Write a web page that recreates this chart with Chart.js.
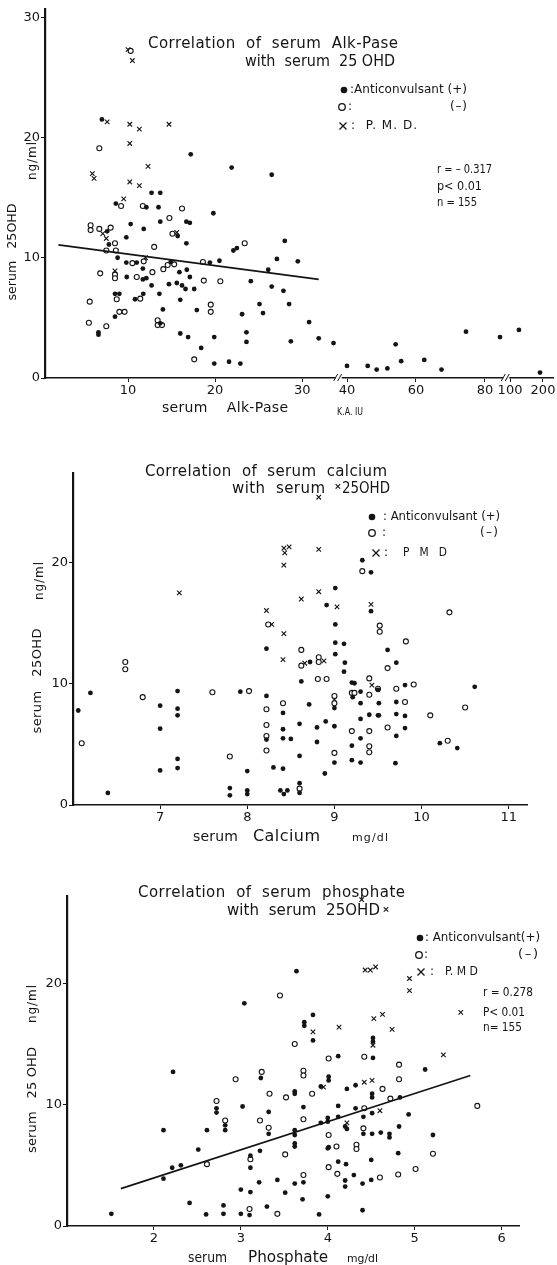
<!DOCTYPE html>
<html><head><meta charset="utf-8">
<script src="https://cdn.jsdelivr.net/npm/chart.js@4.4.1/dist/chart.umd.min.js"></script>
<style>
html,body{margin:0;padding:0;background:#fff;width:557px;height:1265px;overflow:hidden;}
canvas{position:absolute;left:0;}
</style></head><body>
<canvas id="c1" width="557" height="420" style="top:0px"></canvas>
<canvas id="c2" width="557" height="440" style="top:420px"></canvas>
<canvas id="c3" width="557" height="405" style="top:860px"></canvas>
<script>
// ---------- DATA: chart 1, serum Alk-Pase (K.A. IU) vs serum 25OHD (ng/ml) ----------
const alkAnticonvulsant = [[7.0,21.5],[17.2,18.6],[21.9,17.5],[26.5,16.9],[12.7,15.4],[13.7,15.4],[8.6,14.5],[12.1,14.2],[13.5,14.2],[19.8,13.7],[10.3,12.8],[11.8,12.4],[13.7,13.0],[16.7,13.0],[17.1,12.9],[7.6,12.2],[7.8,11.1],[9.8,11.7],[15.7,11.8],[16.7,11.2],[22.1,10.6],[22.5,10.8],[27.1,9.9],[8.8,10.0],[9.8,9.6],[11.0,9.6],[9.85,8.4],[11.7,9.1],[11.7,8.2],[12.1,8.3],[14.9,9.65],[19.4,9.6],[20.5,9.75],[15.9,8.8],[16.75,9.0],[17.1,8.4],[24.1,8.05],[26.1,9.0],[26.5,7.6],[12.7,7.7],[14.7,7.8],[15.6,7.9],[16.2,7.7],[16.6,7.4],[17.6,7.4],[8.5,7.0],[9.0,7.0],[10.8,6.55],[11.75,7.0],[13.6,7.0],[16.0,6.5],[6.6,3.8],[6.6,3.6],[8.5,5.1],[14.0,5.7],[13.7,4.55],[16.0,3.7],[16.9,3.4],[17.9,5.65],[18.4,2.5],[19.9,3.4],[19.9,1.2],[21.6,1.35],[22.9,1.2],[23.1,5.3],[23.6,3.8],[23.6,3.0],[25.1,6.15],[25.5,5.4],[28.0,11.4],[29.5,9.7],[27.85,7.25],[28.5,6.15],[30.8,4.65],[28.7,3.05],[31.9,3.3],[33.6,2.9],[40,1.0],[46,1.0],[48.6,0.7],[51.7,0.8],[54.1,2.8],[55.7,1.4],[62.4,1.5],[67.4,0.7],[74.5,3.85],[92,3.4],[127,4.0],[191,0.45]];
const alkNoAnticonvulsant = [[10.3,27.2],[6.7,19.1],[9.2,14.3],[11.7,14.3],[16.2,14.1],[14.75,13.3],[5.7,12.7],[5.7,12.3],[6.7,12.4],[8.0,12.5],[8.5,11.2],[15.1,12.0],[13.0,10.9],[7.5,10.6],[8.6,10.6],[23.4,11.2],[11.8,9.7],[10.5,9.55],[6.8,8.7],[8.5,8.6],[8.5,8.3],[11.0,8.4],[12.8,8.8],[14.05,9.05],[14.55,9.4],[15.3,9.45],[18.6,9.65],[18.7,8.1],[20.6,8.05],[8.7,6.55],[11.4,6.6],[5.6,6.35],[5.5,4.6],[7.5,4.3],[9.0,5.5],[9.6,5.5],[13.4,4.8],[13.4,4.4],[13.9,4.4],[17.6,1.55],[19.5,6.1],[19.5,5.5]];
const alkPMD = [[10.0,27.3],[10.5,26.4],[7.6,21.3],[10.2,21.1],[11.3,20.7],[14.7,21.1],[10.2,19.5],[12.3,17.6],[5.9,17.0],[6.1,16.6],[10.2,16.3],[11.3,16.0],[9.5,14.9],[7.1,12.0],[7.5,11.6],[15.6,12.1],[12.0,10.0],[8.5,8.9]];
const alkRegression = [[2.0,11.07],[31.9,8.2]];
const alkXTicks = [10,20,30,40,60,80,100,200];
const alkYTicks = [0,10,20,30];

// ---------- DATA: chart 2, serum calcium (mg/dl) vs serum 25OHD ----------
const caAnticonvulsant = [[6.06,7.8],[6.2,9.25],[6.4,1.0],[7.0,8.2],[7.0,6.3],[7.0,2.85],[7.2,9.4],[7.2,7.95],[7.2,7.4],[7.2,3.8],[7.2,3.05],[7.92,9.35],[7.8,1.4],[7.8,0.8],[8.0,2.8],[8.0,1.2],[8.0,0.9],[8.22,9.0],[8.22,5.4],[8.22,12.9],[8.3,3.1],[8.38,1.2],[8.42,0.9],[8.46,1.2],[9.32,20.2],[9.42,19.2],[9.01,17.9],[8.91,16.5],[9.42,16.0],[9.01,14.9],[9.01,13.4],[9.11,13.3],[9.01,12.45],[8.72,11.8],[9.12,11.75],[9.11,11.0],[8.62,10.2],[8.41,7.6],[8.71,8.3],[9.0,8.0],[9.2,10.1],[9.23,10.05],[9.21,8.9],[9.3,9.35],[9.5,9.5],[9.3,8.4],[9.4,7.45],[9.3,7.1],[9.5,7.4],[8.6,6.7],[8.8,6.4],[8.9,6.9],[9.0,6.5],[8.41,6.25],[8.41,5.5],[8.5,5.45],[8.8,5.2],[9.3,5.5],[9.2,4.9],[8.6,4.05],[9.0,3.5],[9.2,3.7],[9.3,3.5],[8.41,3.0],[8.89,2.6],[8.6,1.8],[8.6,1.0],[9.61,12.8],[9.71,11.75],[9.81,9.9],[10.61,9.75],[9.51,8.4],[9.71,8.5],[9.51,7.4],[9.71,7.5],[9.81,7.35],[9.81,6.35],[9.71,5.7],[10.21,5.1],[10.41,4.7],[9.7,3.45]];
const caNoAnticonvulsant = [[6.1,5.1],[6.6,11.8],[6.6,11.2],[6.8,8.9],[7.6,9.3],[8.02,9.4],[7.8,4.0],[8.22,7.9],[8.22,6.6],[8.22,5.7],[8.22,4.5],[8.24,14.9],[9.32,19.3],[9.52,14.8],[9.52,14.3],[8.62,12.8],[8.62,11.5],[8.82,12.2],[8.82,11.8],[8.81,10.4],[8.91,10.4],[8.41,8.4],[9.0,9.0],[9.0,8.4],[9.2,9.25],[9.23,9.25],[9.4,10.45],[9.4,9.1],[9.2,6.1],[9.4,6.1],[9.4,4.85],[9.4,4.35],[9.0,4.3],[8.6,1.35],[10.32,15.9],[9.82,13.5],[9.61,11.3],[9.5,9.6],[9.71,9.6],[9.91,9.95],[9.81,8.5],[10.5,8.05],[10.1,7.4],[9.61,6.4],[10.3,5.3]];
const caPMD = [[8.42,21.2],[8.48,21.3],[8.43,20.8],[8.82,21.1],[8.42,19.8],[8.62,17.0],[8.82,17.6],[9.03,16.35],[9.42,16.55],[8.22,16.05],[8.28,14.9],[8.42,14.15],[8.41,12.0],[8.66,11.7],[8.88,11.9],[9.0,8.7],[9.43,9.9],[7.22,17.5],[8.82,25.4],[9.04,26.3]];
const caXTicks = [7,8,9,10,11];
const caYTicks = [0,10,20];

// ---------- DATA: chart 3, serum phosphate (mg/dl) vs serum 25OHD ----------
const pAnticonvulsant = [[1.51,1.0],[2.22,12.7],[2.11,7.9],[2.11,3.9],[2.21,4.8],[2.31,5.0],[2.41,1.9],[2.51,6.3],[2.61,7.9],[2.6,0.95],[2.72,9.7],[2.72,9.35],[2.8,1.0],[2.8,1.7],[2.82,8.3],[2.82,7.9],[3.02,9.85],[3.0,1.0],[3.0,3.0],[3.11,5.8],[3.11,4.8],[3.11,2.8],[3.1,0.9],[3.21,3.6],[3.22,6.2],[3.23,12.2],[3.32,9.4],[3.32,7.6],[3.3,1.6],[3.42,3.8],[3.04,18.35],[3.83,17.4],[3.73,16.8],[3.73,16.5],[3.83,15.3],[4.01,12.3],[4.01,12.0],[3.92,11.5],[3.62,11.1],[3.62,10.9],[3.72,9.8],[3.62,7.9],[3.62,7.5],[3.92,8.5],[4.0,8.9],[4.0,8.6],[4.0,6.4],[3.62,6.8],[3.62,6.55],[3.72,3.6],[3.62,3.5],[3.51,2.75],[4.0,2.45],[3.64,21.0],[4.52,15.5],[4.52,15.2],[4.12,14.0],[4.52,13.85],[5.12,12.9],[4.22,11.3],[4.32,11.6],[4.51,10.9],[4.51,10.6],[4.83,10.6],[4.12,9.9],[4.12,9.0],[4.32,9.7],[4.41,9.0],[4.51,9.3],[4.93,9.2],[4.2,8.2],[4.22,8.0],[4.41,7.6],[4.51,7.6],[4.61,7.7],[4.71,7.6],[4.71,7.3],[4.82,8.2],[5.21,7.5],[4.01,6.5],[4.81,6.0],[4.12,5.3],[4.21,5.1],[4.5,5.45],[4.2,3.75],[4.2,3.25],[4.3,4.2],[4.4,3.5],[4.5,3.8],[3.71,2.2],[3.9,0.95],[4.4,1.3]];
const pNoAnticonvulsant = [[2.61,5.1],[2.72,10.3],[2.82,8.7],[2.94,12.1],[3.11,5.5],[3.1,1.4],[3.22,8.7],[3.24,12.7],[3.33,10.9],[3.32,8.1],[3.42,1.0],[3.62,15.0],[4.01,13.8],[3.72,12.8],[3.72,12.4],[3.52,10.6],[3.82,10.9],[3.72,8.8],[4.01,7.5],[4.01,4.85],[3.51,5.9],[3.72,4.2],[3.45,19.0],[4.42,13.95],[4.82,13.3],[4.82,12.1],[4.63,11.3],[4.72,10.5],[4.42,9.7],[4.41,8.05],[4.1,6.55],[4.33,6.7],[4.33,6.35],[5.21,5.95],[5.01,4.7],[4.11,4.3],[4.6,4.0],[4.81,4.25],[5.72,9.9]];
const pPMD = [[3.83,16.0],[3.95,11.45],[4.43,21.1],[4.49,21.1],[4.55,21.35],[4.94,20.4],[4.94,19.4],[4.13,16.4],[4.53,17.1],[4.63,17.45],[4.74,16.2],[5.53,17.6],[4.52,14.9],[5.33,14.1],[4.42,11.85],[4.51,12.0],[4.6,9.5],[4.22,8.5],[4.67,26.1],[4.39,26.9]];
const pRegression = [[1.62,3.08],[5.64,12.4]];
const pXTicks = [2,3,4,5,6];
const pYTicks = [0,10,20];

// ---------- rendering ----------
const FONT = '"DejaVu Sans", "Liberation Sans", sans-serif';
const INK = '#141414';

class BrokenLinearScale extends Chart.LinearScale {
  getPixelForValue(value) {
    const a = this.options.breakAnchors;
    if (!a) return super.getPixelForValue(value);
    let i = 0;
    while (i < a.length - 2 && value > a[i + 1][0]) i++;
    const v0 = a[i][0], f0 = a[i][1], v1 = a[i + 1][0], f1 = a[i + 1][1];
    const f = f0 + (value - v0) * (f1 - f0) / (v1 - v0);
    return this.left + f * this.width;
  }
}
BrokenLinearScale.id = 'brokenLinear';
BrokenLinearScale.defaults = {};
Chart.register(BrokenLinearScale);

function series(points, kind, label) {
  const base = { label, data: points.map(p => ({ x: p[0], y: p[1] })), showLine: false };
  if (kind === 'dot') return { ...base, pointStyle: 'circle', pointRadius: 2.4, backgroundColor: INK, borderColor: INK, borderWidth: 0 };
  if (kind === 'ring') return { ...base, pointStyle: 'circle', pointRadius: 2.5, backgroundColor: '#fff', borderColor: INK, borderWidth: 1.1 };
  if (kind === 'line') return { ...base, showLine: true, pointRadius: 0, borderColor: INK, borderWidth: 1.6, fill: false };
  return { ...base, pointStyle: 'crossRot', pointRadius: 3.2, borderColor: INK, backgroundColor: INK, borderWidth: 1.1 };
}

function drawText(ctx, t, off) {
  ctx.save();
  ctx.font = (t.weight || 'normal') + ' ' + t.size + 'px ' + FONT;
  ctx.fillStyle = INK;
  ctx.textBaseline = 'middle';
  ctx.textAlign = 'left';
  const w0 = ctx.measureText(t.text).width;
  const W = t.w || w0;
  const n = t.text.length;
  ctx.translate(t.x, t.y - off);
  if (t.rot) ctx.rotate(-Math.PI / 2);
  const sx = t.rot ? -W / 2 : 0;
  if ('letterSpacing' in ctx && n > 1 && W >= w0) {
    ctx.letterSpacing = ((W - w0) / (n - 1)) + 'px';
    ctx.fillText(t.text, sx, 0);
  } else {
    ctx.translate(sx, 0);
    ctx.scale(W / w0, 1);
    ctx.fillText(t.text, 0, 0);
  }
  ctx.restore();
}

function drawMarker(ctx, m, off) {
  const y = m.y - off;
  ctx.save();
  ctx.strokeStyle = INK; ctx.fillStyle = INK; ctx.lineWidth = 1.3;
  if (m.kind === 'dot') { ctx.beginPath(); ctx.arc(m.x, y, m.r, 0, Math.PI * 2); ctx.fill(); }
  else if (m.kind === 'ring') { ctx.beginPath(); ctx.arc(m.x, y, m.r, 0, Math.PI * 2); ctx.stroke(); }
  else {
    ctx.beginPath();
    ctx.moveTo(m.x - m.r, y - m.r); ctx.lineTo(m.x + m.r, y + m.r);
    ctx.moveTo(m.x + m.r, y - m.r); ctx.lineTo(m.x - m.r, y + m.r);
    ctx.stroke();
  }
  ctx.restore();
}

function decorPlugin(cfg) {
  return {
    id: 'decor',
    afterDraw(chart) {
      const ctx = chart.ctx;
      (cfg.breaks || []).forEach(v => {
        const px = chart.scales.x.getPixelForValue(v);
        const py = chart.chartArea.bottom;
        ctx.save();
        ctx.fillStyle = '#fff';
        ctx.fillRect(px - 3, py - 2, 6, 4);
        ctx.strokeStyle = INK; ctx.lineWidth = 1;
        ctx.beginPath();
        ctx.moveTo(px - 5, py + 3); ctx.lineTo(px - 1, py - 4);
        ctx.moveTo(px - 1, py + 3); ctx.lineTo(px + 3, py - 4);
        ctx.stroke();
        ctx.restore();
      });
      cfg.texts.forEach(t => drawText(ctx, t, cfg.offset));
      cfg.markers.forEach(m => drawMarker(ctx, m, cfg.offset));
    }
  };
}

function makeChart(id, cfg) {
  const canvas = document.getElementById(id);
  const H = canvas.height;
  const axisBase = {
    grid: { display: true, drawOnChartArea: false, drawTicks: true, tickLength: 4, color: INK, lineWidth: 1 },
    ticks: { color: INK, font: { family: FONT, size: 13 }, padding: 1, autoSkip: false, maxRotation: 0, callback: v => String(v) }
  };
  return new Chart(canvas, {
    type: 'scatter',
    data: { datasets: cfg.datasets },
    options: {
      responsive: false, animation: false, devicePixelRatio: 1,
      layout: { autoPadding: false, padding: { top: cfg.area.top - cfg.offset, right: 557 - cfg.area.right, left: 0, bottom: 0 } },
      plugins: { legend: { display: false }, tooltip: { enabled: false }, title: { display: false } },
      scales: {
        x: {
          ...axisBase, type: cfg.xType || 'linear', min: cfg.xMin, max: cfg.xMax,
          breakAnchors: cfg.anchors,
          border: { display: true, color: INK, width: 1.6 },
          afterBuildTicks: s => { s.ticks = cfg.xTicks.map(v => ({ value: v })); },
          afterFit: s => { s.height = H - (cfg.area.bottom - cfg.offset); }
        },
        y: {
          ...axisBase, min: 0, max: cfg.yMax,
          border: { display: true, color: INK, width: 2.2 },
          afterBuildTicks: s => { s.ticks = cfg.yTicks.map(v => ({ value: v })); },
          afterFit: s => { s.width = cfg.area.left; }
        }
      }
    },
    plugins: [decorPlugin(cfg)]
  });
}

// Chart 1
makeChart('c1', {
  offset: 0,
  area: { left: 45, right: 553, top: 5, bottom: 378 },
  xType: 'brokenLinear', xMin: 0, xMax: 200,
  anchors: [[0, -0.0079], [34, 0.5748], [40, 0.5945], [80, 0.8661], [100, 0.9154], [200, 0.9803], [300, 1.045]],
  breaks: [35, 97],
  xTicks: alkXTicks, yTicks: alkYTicks, yMax: 30.7,
  datasets: [
    series(alkRegression, 'line', 'regression'),
    series(alkAnticonvulsant, 'dot', 'Anticonvulsant (+)'),
    series(alkNoAnticonvulsant, 'ring', 'Anticonvulsant (-)'),
    series(alkPMD, 'cross', 'P.M.D.')
  ],
  texts: [
    { text: 'Correlation  of  serum  Alk-Pase', x: 148, y: 44, size: 15, w: 250 },
    { text: 'with  serum  25 OHD', x: 245, y: 62, size: 15, w: 150 },
    { text: ':Anticonvulsant (+)', x: 350, y: 90, size: 12, w: 117 },
    { text: ':', x: 348, y: 107, size: 12 },
    { text: '(–)', x: 450, y: 107, size: 12, w: 17 },
    { text: ':  P. M. D.', x: 351, y: 126, size: 12, w: 66 },
    { text: 'r = – 0.317', x: 437, y: 170, size: 12, w: 55 },
    { text: 'p< 0.01', x: 437, y: 187, size: 12, w: 45 },
    { text: 'n = 155', x: 437, y: 203, size: 12, w: 40 },
    { text: 'serum   25OHD', x: 13, y: 252, size: 13, w: 97, rot: true },
    { text: 'ng/ml', x: 33, y: 161, size: 12, w: 38, rot: true },
    { text: 'serum    Alk-Pase', x: 162, y: 408, size: 14, w: 126 },
    { text: 'K.A. IU', x: 337, y: 412, size: 10, w: 26 }
  ],
  markers: [
    { kind: 'dot', x: 344, y: 90, r: 3.3 },
    { kind: 'ring', x: 342, y: 107, r: 3.3 },
    { kind: 'cross', x: 343, y: 126, r: 3.5 }
  ]
});

// Chart 2
makeChart('c2', {
  offset: 420,
  area: { left: 73, right: 527, top: 473, bottom: 805 },
  xMin: 6.0, xMax: 11.21,
  xTicks: caXTicks, yTicks: caYTicks, yMax: 27.4,
  datasets: [
    series(caAnticonvulsant, 'dot', 'Anticonvulsant (+)'),
    series(caNoAnticonvulsant, 'ring', 'Anticonvulsant (-)'),
    series(caPMD, 'cross', 'P M D')
  ],
  texts: [
    { text: 'Correlation  of  serum  calcium', x: 145, y: 472, size: 15, w: 242 },
    { text: 'with  serum', x: 232, y: 489, size: 15, w: 93 },
    { text: '25OHD', x: 342, y: 489, size: 15, w: 48 },
    { text: ': Anticonvulsant (+)', x: 383, y: 517, size: 12, w: 117 },
    { text: ':', x: 382, y: 533, size: 12 },
    { text: '(–)', x: 480, y: 533, size: 12, w: 18 },
    { text: ':', x: 384, y: 553, size: 12 },
    { text: 'P   M   D', x: 403, y: 553, size: 12, w: 44 },
    { text: 'serum   25OHD', x: 38, y: 681, size: 13, w: 105, rot: true },
    { text: 'ng/ml', x: 40, y: 581, size: 12, w: 38, rot: true },
    { text: 'serum', x: 193, y: 837, size: 14, w: 45 },
    { text: 'Calcium', x: 253, y: 837, size: 16, w: 67 },
    { text: 'mg/dl', x: 352, y: 838, size: 11, w: 36 }
  ],
  markers: [
    { kind: 'dot', x: 372, y: 517, r: 3.3 },
    { kind: 'ring', x: 372, y: 533, r: 3.3 },
    { kind: 'cross', x: 376, y: 553, r: 3.5 }
  ]
});

// Chart 3
makeChart('c3', {
  offset: 860,
  area: { left: 67, right: 519, top: 896, bottom: 1226 },
  xMin: 1.0, xMax: 6.2,
  xTicks: pXTicks, yTicks: pYTicks, yMax: 27.2,
  datasets: [
    series(pRegression, 'line', 'regression'),
    series(pAnticonvulsant, 'dot', 'Anticonvulsant (+)'),
    series(pNoAnticonvulsant, 'ring', 'Anticonvulsant (-)'),
    series(pPMD, 'cross', 'P. M D')
  ],
  texts: [
    { text: 'Correlation  of  serum  phosphate', x: 138, y: 893, size: 15, w: 267 },
    { text: 'with  serum  25OHD', x: 227, y: 911, size: 15, w: 153 },
    { text: ': Anticonvulsant(+)', x: 425, y: 938, size: 13, w: 115 },
    { text: ':', x: 424, y: 955, size: 12 },
    { text: '(–)', x: 518, y: 955, size: 13, w: 20 },
    { text: ':', x: 430, y: 972, size: 12 },
    { text: 'P. M D', x: 445, y: 972, size: 13, w: 33 },
    { text: 'r = 0.278', x: 483, y: 993, size: 12, w: 50 },
    { text: 'P< 0.01', x: 483, y: 1013, size: 12, w: 42 },
    { text: 'n= 155', x: 483, y: 1028, size: 12, w: 39 },
    { text: 'serum   25 OHD', x: 33, y: 1100, size: 13, w: 106, rot: true },
    { text: 'ng/ml', x: 33, y: 1004, size: 12, w: 38, rot: true },
    { text: 'serum', x: 188, y: 1258, size: 14, w: 39 },
    { text: 'Phosphate', x: 248, y: 1258, size: 16, w: 80 },
    { text: 'mg/dl', x: 347, y: 1259, size: 11, w: 31 }
  ],
  markers: [
    { kind: 'dot', x: 420, y: 938, r: 3.3 },
    { kind: 'ring', x: 419, y: 955, r: 3.3 },
    { kind: 'cross', x: 421, y: 972, r: 3.5 }
  ]
});
</script>
</body></html>
